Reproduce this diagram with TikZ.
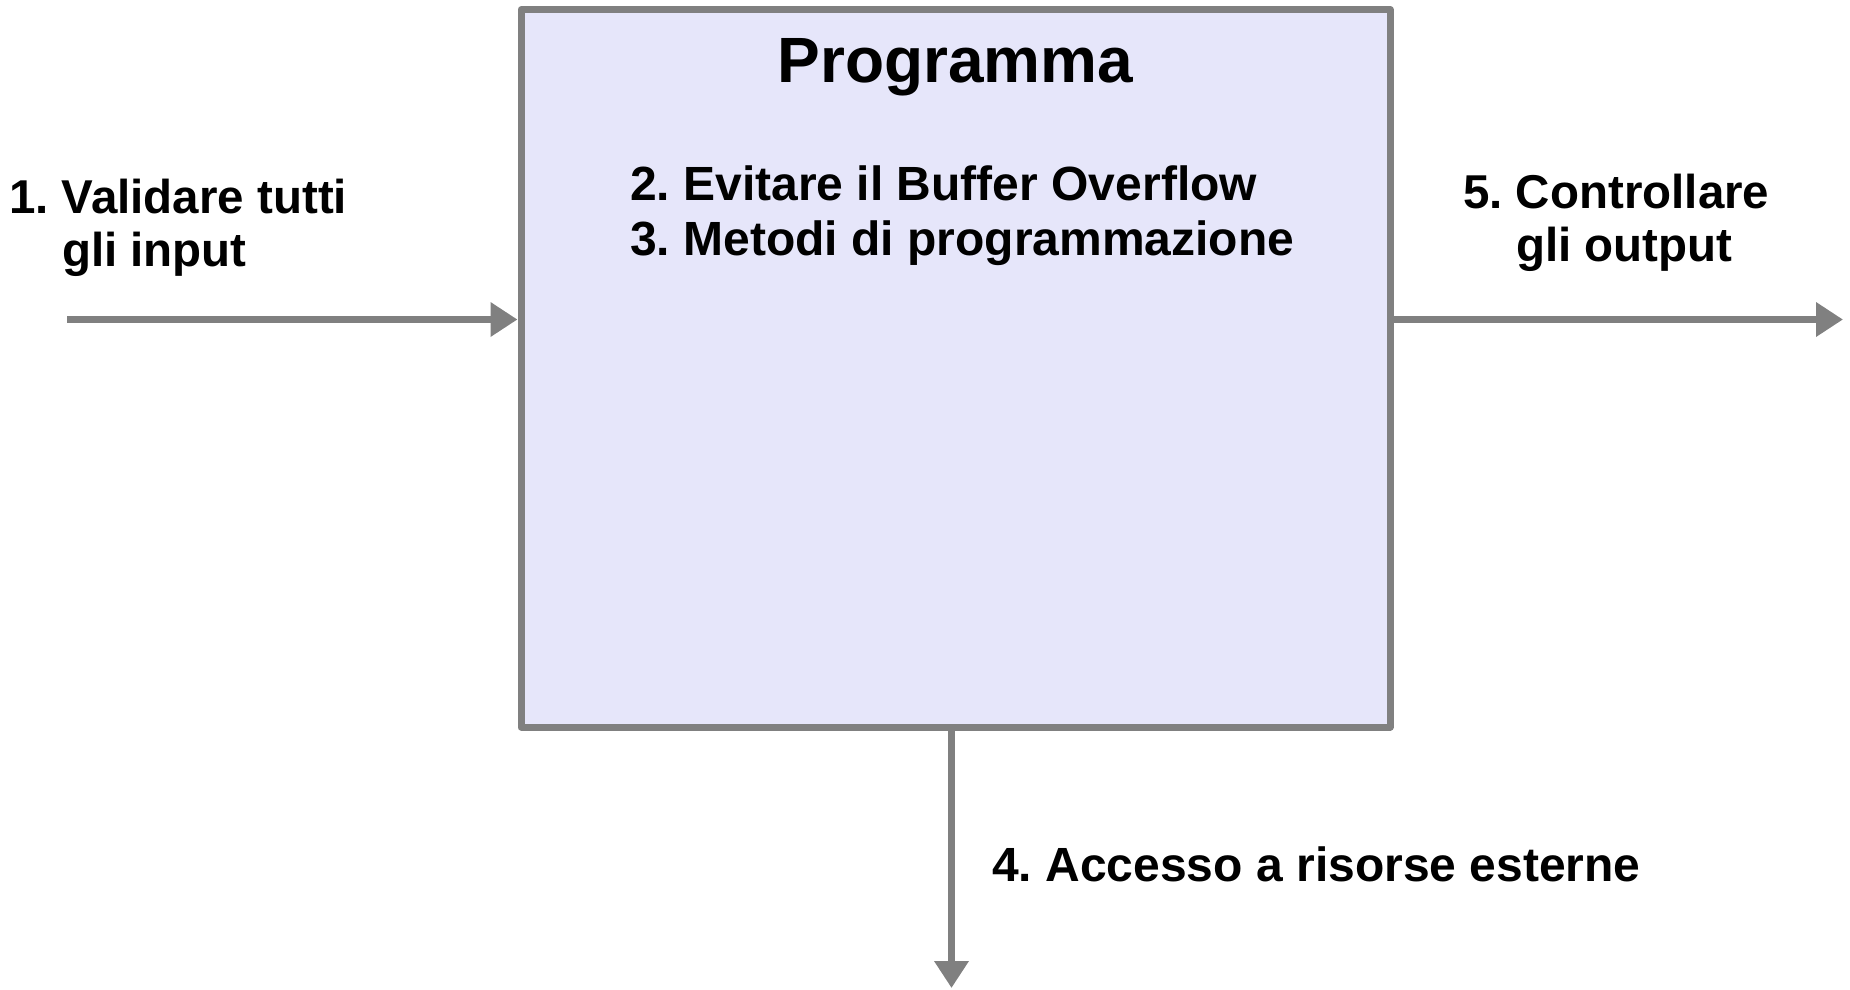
\documentclass[tikz,border=0pt]{standalone}
\usepackage{fontspec}
\setmainfont{Liberation Sans}
\usetikzlibrary{arrows.meta}
\definecolor{edgegray}{RGB}{128,128,128}
\definecolor{boxfill}{RGB}{230,230,250}
\frenchspacing
\begin{document}
\begin{tikzpicture}[x=1pt,y=-1pt,
  lbl/.style={inner sep=0pt, font=\fontsize{47.5}{53}\selectfont\bfseries},
  inlbl/.style={inner sep=0pt, font=\fontsize{48}{55}\selectfont\bfseries},
  titlelbl/.style={inner sep=0pt, font=\fontsize{64}{70}\selectfont\bfseries},
  progbox/.style={draw=edgegray, line width=7pt, fill=boxfill, line join=round,
    inner sep=0pt, minimum width=869pt, minimum height=717.5pt},
  flow/.style={draw=edgegray, line width=7pt, -{Triangle[length=27pt,width=33pt]}},
]
\useasboundingbox (0,0) rectangle (1850,989);

% the program block (multi-line nodes are placed by the baseline of their last line)
\node[progbox] (prog) at (955.5,368.25) {};
\node[titlelbl, anchor=base] (title) at (955.5,82) {Programma};
\node[inlbl, anchor=base west, align=left] (steps) at (630,255)
  {2. Evitare il Buffer Overflow\\3. Metodi di programmazione};

% inputs, outputs and external resources
\coordinate (inStart) at (67,319.5);
\coordinate (outEnd) at (1843,319.5);
\coordinate (resEnd) at (951.5,988);
\draw[flow] (inStart) -- (inStart -| prog.west);
\draw[flow] (outEnd -| prog.east) -- (outEnd);
\draw[flow] (resEnd |- prog.south) -- (resEnd);

\node[lbl, anchor=base west, align=left] (inlabel) at (9,266)
  {1. Validare tutti\\\phantom{1. }gli input};
\node[lbl, anchor=base west, align=left] (outlabel) at (1463,261)
  {5. Controllare\\\phantom{5. }gli output};
\node[lbl, font=\fontsize{48}{55}\selectfont\bfseries, anchor=base west] (reslabel) at (992,881)
  {4. Accesso a risorse esterne};
\end{tikzpicture}
\end{document}
